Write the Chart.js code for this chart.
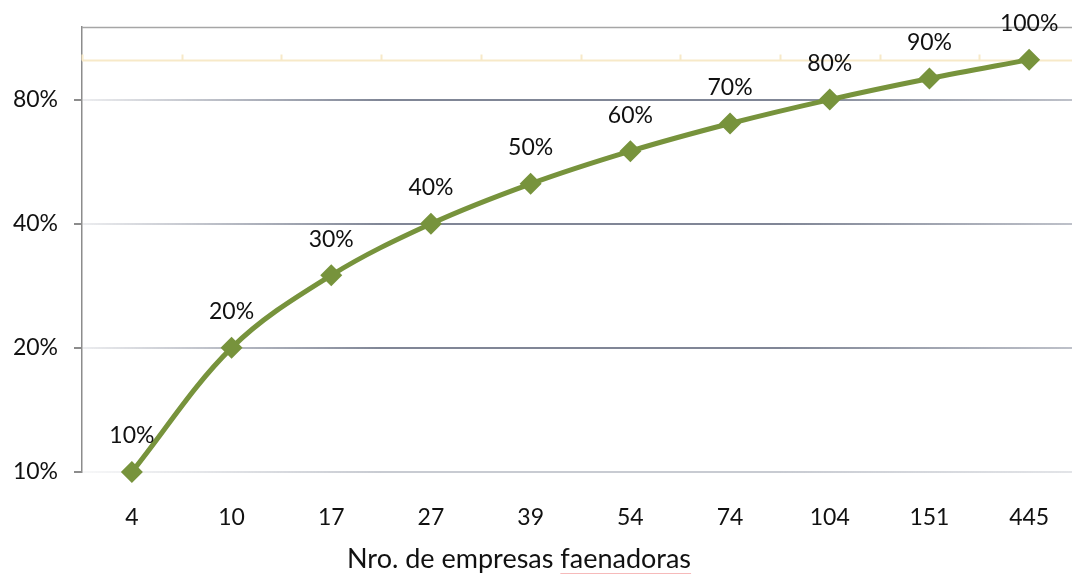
<!DOCTYPE html>
<html>
<head>
<meta charset="utf-8">
<script src="https://cdn.jsdelivr.net/npm/chart.js@4"></script>
<style>
  html, body { margin: 0; padding: 0; background: #fff; overflow: hidden; }
</style>
</head>
<body>
<canvas id="curve" width="1079" height="575"></canvas>
<script>
// Data
var empresas = ['4', '10', '17', '27', '39', '54', '74', '104', '151', '445'];
var acumulado = [10, 20, 30, 40, 50, 60, 70, 80, 90, 100];
var yTicks = [10, 20, 40, 80];
var xTitle = 'Nro. de empresas faenadoras';

var FONT = 'Lato, "Open Sans", sans-serif';

// Line at 100% with category tick marks, frame and point labels
var extras = {
    id: 'extras',
    beforeDatasetsDraw: function(chart) {
        var ctx = chart.ctx, area = chart.chartArea;
        var y = chart.scales.y;
        ctx.save();
        // top frame
        ctx.strokeStyle = '#a6a6a6';
        ctx.lineWidth = 1.5;
        ctx.beginPath();
        ctx.moveTo(area.left, area.top + 0.5);
        ctx.lineTo(area.right, area.top + 0.5);
        ctx.stroke();
        // cream axis line at 100%
        var yy = Math.round(y.getPixelForValue(100)) + 0.5;
        ctx.strokeStyle = '#f7e9c8';
        ctx.lineWidth = 2;
        ctx.beginPath();
        ctx.moveTo(area.left, yy);
        ctx.lineTo(area.right, yy);
        var step = (area.right - area.left) / empresas.length;
        for (var i = 0; i <= empresas.length; i++) {
            var xx = Math.round(area.left + step * i) + 0.5;
            ctx.moveTo(xx, yy);
            ctx.lineTo(xx, yy - 6);
        }
        ctx.stroke();
        ctx.restore();
    },
    afterDatasetsDraw: function(chart) {
        var ctx = chart.ctx;
        var meta = chart.getDatasetMeta(0);
        ctx.save();
        ctx.font = '23px ' + FONT;
        ctx.fillStyle = '#111';
        ctx.textAlign = 'center';
        ctx.textBaseline = 'middle';
        meta.data.forEach(function(pt, i) {
            ctx.fillText(acumulado[i] + '%', pt.x, pt.y - 36);
        });
        // axis title
        ctx.font = '27px ' + FONT;
        ctx.fillText(xTitle, 519, 559);
        // spell-check underline under last word
        var full = ctx.measureText(xTitle).width;
        var last = ctx.measureText('faenadoras').width;
        var x1 = 519 + full / 2 - last, x2 = 519 + full / 2;
        ctx.strokeStyle = 'rgba(240,140,140,0.6)';
        ctx.lineWidth = 1;
        ctx.beginPath();
        ctx.moveTo(x1, 573.5);
        ctx.lineTo(x2, 573.5);
        ctx.stroke();
        ctx.restore();
    }
};

function gridColor(context) {
    var chart = context.chart, area = chart.chartArea;
    if (!area) return '#9aa0ae';
    var base = context.tick && context.tick.value === 10 ? [200, 203, 210] : [128, 134, 150];
    var g = chart.ctx.createLinearGradient(area.left, 0, area.right, 0);
    g.addColorStop(0, 'rgba(' + base.join(',') + ',0.15)');
    g.addColorStop(0.3, 'rgba(' + base.join(',') + ',1)');
    g.addColorStop(0.7, 'rgba(' + base.join(',') + ',1)');
    g.addColorStop(1, 'rgba(' + base.join(',') + ',0.5)');
    return g;
}

new Chart(document.getElementById('curve').getContext('2d'), {
    type: 'line',
    data: {
        labels: empresas,
        datasets: [{
            data: acumulado,
            borderColor: '#77933c',
            backgroundColor: '#77933c',
            borderWidth: 5,
            tension: 0.35,
            pointStyle: 'rectRot',
            pointRadius: 11,
            pointHoverRadius: 11,
            pointBorderWidth: 0,
            clip: false
        }]
    },
    plugins: [extras],
    options: {
        responsive: false,
        animation: false,
        layout: { autoPadding: false, padding: { top: 27, right: 0, left: 0, bottom: 0 } },
        plugins: {
            legend: { display: false },
            tooltip: { enabled: false }
        },
        scales: {
            x: {
                offset: true,
                grid: { display: false, offset: true },
                border: { display: false },
                ticks: { color: '#111', font: { size: 23, family: FONT }, padding: 24 },
                afterFit: function(scale) {
                    scale.height = 103;
                    scale.paddingLeft = 0;
                    scale.paddingRight = 0;
                }
            },
            y: {
                type: 'logarithmic',
                min: 10,
                max: 120,
                afterBuildTicks: function(scale) {
                    scale.ticks = yTicks.map(function(v) { return { value: v }; });
                },
                afterFit: function(scale) {
                    scale.width = 82;
                    scale.paddingTop = 0;
                    scale.paddingBottom = 0;
                },
                border: { display: true, color: '#8c8c8c', width: 1.5 },
                grid: {
                    color: gridColor,
                    lineWidth: 2,
                    tickLength: 8,
                    tickColor: '#8c8c8c'
                },
                ticks: {
                    color: '#111',
                    font: { size: 23, family: FONT },
                    padding: 16,
                    callback: function(v) { return v + '%'; }
                }
            }
        }
    }
});
</script>
</body>
</html>
